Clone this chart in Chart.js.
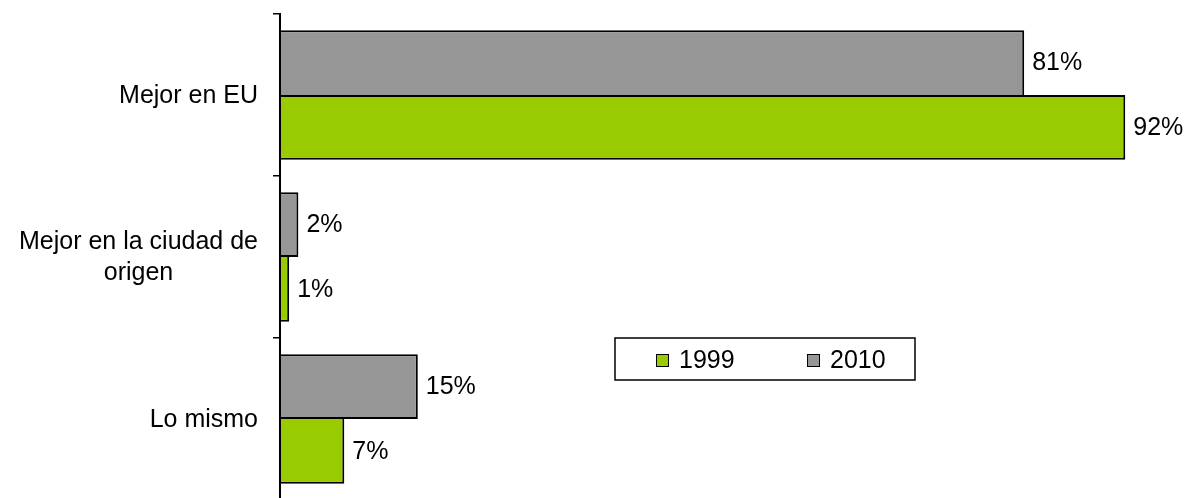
<!DOCTYPE html>
<html>
<head>
<meta charset="utf-8">
<script src="https://cdn.jsdelivr.net/npm/chart.js@4/dist/chart.umd.min.js"></script>
<style>
  html, body { margin: 0; padding: 0; background: #fff; overflow: hidden; }
  canvas { display: block; }
</style>
</head>
<body>
<canvas id="graficoOpinion" width="1185" height="500"></canvas>
<script>
// categorías y series
const categorias = [['Mejor en EU'], ['Mejor en la ciudad de', 'origen'], ['Lo mismo']];
const anios = ['1999', '2010'];
const valores1999 = [92, 1, 7];
const valores2010 = [81, 2, 15];
const colores = { '1999': '#99CC00', '2010': '#969696' };

const FUENTE = '25px "Liberation Sans", Arial, sans-serif';

document.addEventListener("DOMContentLoaded", function () {
    const ctx = document.getElementById('graficoOpinion').getContext('2d');

    // etiquetas de categoría (centradas por línea, bloque alineado a la derecha)
    const etiquetasEje = {
        id: 'etiquetasEje',
        afterDraw(chart) {
            const c = chart.ctx;
            const y = chart.scales.y;
            c.save();
            c.font = FUENTE;
            c.fillStyle = '#000';
            c.textBaseline = 'middle';
            c.textAlign = 'center';
            categorias.forEach((lineas, i) => {
                const ancho = Math.max(...lineas.map(l => c.measureText(l).width));
                const cx = y.right - 22 - ancho / 2;
                const cy = y.getPixelForValue(i) + 1;
                const alto = 31;
                lineas.forEach((l, k) => {
                    c.fillText(l, cx, cy + (k - (lineas.length - 1) / 2) * alto);
                });
            });
            c.restore();
        }
    };

    // valores al final de cada barra
    const etiquetasValor = {
        id: 'etiquetasValor',
        afterDatasetsDraw(chart) {
            const c = chart.ctx;
            c.save();
            c.font = FUENTE;
            c.fillStyle = '#000';
            c.textBaseline = 'middle';
            c.textAlign = 'left';
            chart.data.datasets.forEach((ds, di) => {
                chart.getDatasetMeta(di).data.forEach((bar, i) => {
                    c.fillText(ds.data[i] + '%', bar.x + 8, bar.y + 1);
                });
            });
            c.restore();
        }
    };

    // leyenda con recuadro dentro del área
    const leyenda = {
        id: 'leyendaCaja',
        afterDraw(chart) {
            const c = chart.ctx;
            c.save();
            c.fillStyle = '#fff';
            c.fillRect(615, 338, 300, 42);
            c.strokeStyle = '#000';
            c.lineWidth = 1.5;
            c.strokeRect(615, 338, 300, 42);
            c.font = FUENTE;
            c.textBaseline = 'middle';
            c.textAlign = 'left';
            const xs = [656, 807];
            anios.forEach((a, i) => {
                c.fillStyle = colores[a];
                c.fillRect(xs[i], 354, 13, 13);
                c.lineWidth = 1;
                c.strokeStyle = '#000';
                c.strokeRect(xs[i] + 0.5, 354.5, 12, 12);
                c.fillStyle = '#000';
                c.fillText(a, xs[i] + 23, 361);
            });
            c.restore();
        }
    };

    // la línea compartida entre barras la dibuja solo la barra más larga
    const borde2010 = c => ({ top: 2, right: 2, left: 0,
        bottom: valores2010[c.dataIndex] >= valores1999[c.dataIndex] ? 2 : 0 });
    const borde1999 = c => ({ bottom: 2, right: 2, left: 0,
        top: valores1999[c.dataIndex] > valores2010[c.dataIndex] ? 2 : 0 });

    new Chart(ctx, {
        type: 'bar',
        data: {
            labels: categorias.map(l => l.join(' ')),
            datasets: [
                {
                    label: '2010',
                    data: valores2010,
                    backgroundColor: colores['2010'],
                    borderColor: '#000',
                    borderWidth: borde2010,
                    borderSkipped: false,
                    categoryPercentage: 0.8,
                    barPercentage: 1.0
                },
                {
                    label: '1999',
                    data: valores1999,
                    backgroundColor: colores['1999'],
                    borderColor: '#000',
                    borderWidth: borde1999,
                    borderSkipped: false,
                    categoryPercentage: 0.8,
                    barPercentage: 1.0
                }
            ]
        },
        options: {
            indexAxis: 'y',
            responsive: false,
            animation: false,
            layout: { padding: { top: 14, right: 0, bottom: 0, left: 0 } },
            scales: {
                x: { display: false, min: 0, max: 98.5 },
                y: {
                    afterFit(scale) { scale.width = 280; },
                    ticks: { display: false },
                    grid: {
                        offset: true,
                        drawOnChartArea: false,
                        drawTicks: true,
                        tickLength: 7,
                        color: '#000',
                        lineWidth: 1.5
                    },
                    border: { display: true, color: '#000', width: 2, z: 1 }
                }
            },
            plugins: {
                legend: { display: false },
                tooltip: { enabled: false }
            }
        },
        plugins: [etiquetasEje, etiquetasValor, leyenda]
    });
});
</script>
</body>
</html>
